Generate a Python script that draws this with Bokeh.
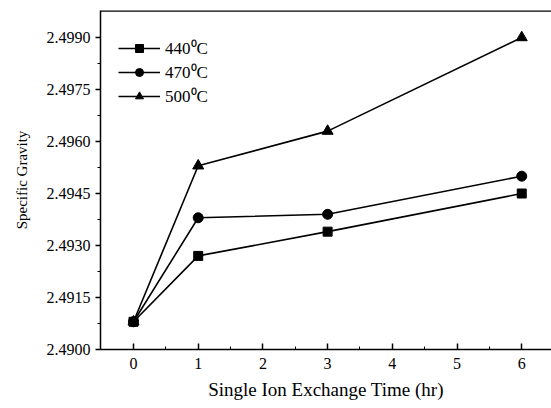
from bokeh.plotting import figure
from bokeh.models import Range1d, Legend, LegendItem, FixedTicker, PrintfTickFormatter, Span
from bokeh.embed import file_html
from bokeh.resources import INLINE

time_hr = [0, 1, 3, 6]
sg_440 = [2.4908, 2.4927, 2.4934, 2.4945]
sg_470 = [2.4908, 2.4938, 2.4939, 2.4950]
sg_500 = [2.4908, 2.4953, 2.4963, 2.4990]
labels = ["440\u2070C", "470\u2070C", "500\u2070C"]
x_ticks = [0, 1, 2, 3, 4, 5, 6]
y_ticks = [2.4900, 2.4915, 2.4930, 2.4945, 2.4960, 2.4975, 2.4990]

FONT = "Liberation Serif"
Y_TOP = 2.49978

p = figure(width=551, height=408, output_backend="svg", toolbar_location=None,
           x_range=Range1d(-0.51, 6.46), y_range=Range1d(2.4900, Y_TOP),
           min_border_left=100, min_border_right=0, min_border_top=10, min_border_bottom=59)
p.outline_line_alpha = 0
p.grid.visible = False
p.background_fill_color = "white"
p.border_fill_color = "white"

top_line = Span(location=Y_TOP, dimension="width", line_color="black", line_width=2.5)
p.add_layout(top_line)

p.xaxis.ticker = FixedTicker(ticks=x_ticks, minor_ticks=[v + 0.5 for v in x_ticks[:-1]])
p.yaxis.ticker = FixedTicker(ticks=y_ticks, minor_ticks=[v + 0.00075 for v in y_ticks[:-1]])
p.yaxis.formatter = PrintfTickFormatter(format="%.4f")

for ax in (p.xaxis[0], p.yaxis[0]):
    ax.axis_line_color = "black"
    ax.axis_line_width = 1.5
    ax.major_tick_line_color = "black"
    ax.minor_tick_line_color = "black"
    ax.major_tick_line_width = 1.5
    ax.major_label_text_font = FONT
    ax.major_label_text_font_size = "16px"
    ax.major_label_text_color = "black"
    ax.axis_label_text_font = FONT
    ax.axis_label_text_font_style = "normal"
    ax.axis_label_text_color = "black"

p.xaxis.axis_label_text_font_size = "19px"
p.yaxis.axis_label_text_font_size = "15px"
p.xaxis.major_tick_in = 6
p.xaxis.major_tick_out = 0
p.xaxis.minor_tick_in = 3
p.xaxis.minor_tick_out = 0
p.xaxis.major_label_standoff = 8
p.xaxis.axis_label_standoff = 7
p.yaxis.major_tick_in = 0
p.yaxis.major_tick_out = 5
p.yaxis.minor_tick_in = 0
p.yaxis.minor_tick_out = 3
p.yaxis.major_label_standoff = 5
p.yaxis.axis_label_standoff = 14
p.xaxis.axis_label = "Single Ion Exchange Time (hr)"
p.yaxis.axis_label = "Specific Gravity"

l1 = p.line(time_hr, sg_440, line_color="black", line_width=1.6)
m1 = p.scatter(time_hr, sg_440, marker="square", size=9, color="black")
l2 = p.line(time_hr, sg_470, line_color="black", line_width=1.6)
m2 = p.scatter(time_hr, sg_470, marker="circle", size=10, color="black")
l3 = p.line(time_hr, sg_500, line_color="black", line_width=1.6)
m3 = p.scatter(time_hr, sg_500, marker="triangle", size=11, color="black")

legend = Legend(items=[LegendItem(label=labels[0], renderers=[l1, m1]),
                       LegendItem(label=labels[1], renderers=[l2, m2]),
                       LegendItem(label=labels[2], renderers=[l3, m3])],
                location=(18, 242))
legend.border_line_alpha = 0
legend.background_fill_alpha = 0
legend.label_text_font = FONT
legend.label_text_font_size = "17px"
legend.label_text_color = "black"
legend.glyph_width = 42
legend.glyph_height = 20
legend.label_height = 20
legend.spacing = 1
legend.padding = 0
legend.margin = 0
legend.label_standoff = 5
p.add_layout(legend)

open("out.html", "w").write(file_html(p, INLINE))
